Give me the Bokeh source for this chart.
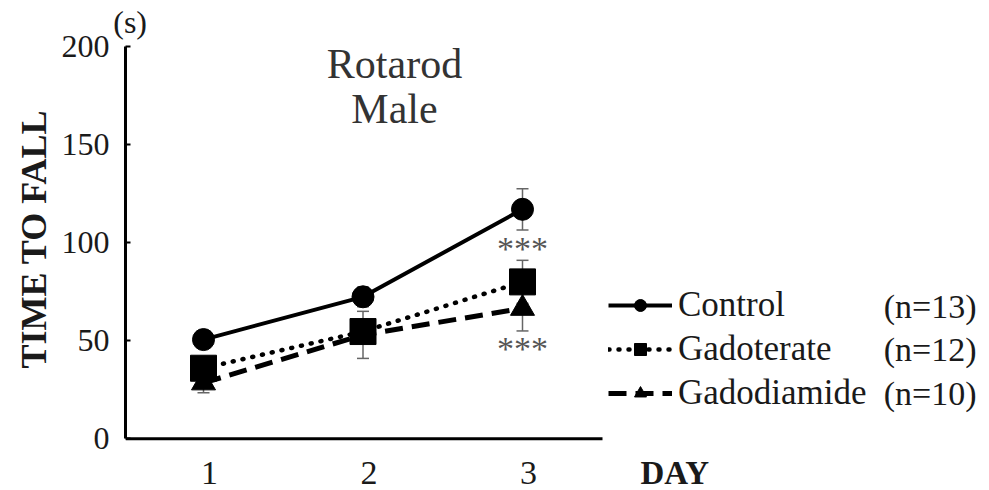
from bokeh.plotting import figure
from bokeh.models import (Range1d, FixedTicker, Whisker, ColumnDataSource, Label,
                          TeeHead, Legend, LegendItem, Title)
from bokeh.core.properties import value
from bokeh.embed import file_html
from bokeh.resources import INLINE

# ---------------- data ----------------
days = [1, 2, 3]
day_labels = ["1", "2", "3"]
control = [50.6, 72.4, 117.0]
control_err = [3.0, 5.0, 10.5]
gadoterate = [36.0, 54.7, 80.0]
gadoterate_err = [4.0, 6.0, 11.0]
gadodiamide = [28.5, 53.0, 66.5]
gadodiamide_err = [5.0, 12.0, 11.5]
series_names = ["Control", "Gadoterate", "Gadodiamide"]
series_n = ["(n=13)", "(n=12)", "(n=10)"]
y_ticks = [0, 50, 100, 150, 200]
sig_text = ["***", "***"]
unit_text = "(s)"
x_title = "DAY"
y_title = "TIME TO FALL"

FONT = "Liberation Serif"
TXT = "#1a1a1a"

# ---------------- layout constants (pixels -> data) ----------------
W, H = 989, 490
LEFT, TOP = 125, 40          # frame left / top in canvas pixels
Y0_PX = 438                  # pixel row of y = 0
PX_PER_Y = 1.975
DAY1_PX, PX_PER_DAY = 203, 159.5
AXIS_END_PX = 602

def xdata(px):
    return days[0] + (px - DAY1_PX) / PX_PER_DAY

def ydata(py):
    return (Y0_PX - py) / PX_PER_Y

x_start, x_end = xdata(LEFT), xdata(W)
y_start, y_end = ydata(H), ydata(TOP)
x_axis_end = xdata(AXIS_END_PX)

p = figure(width=W, height=H, x_range=Range1d(x_start, x_end), y_range=Range1d(y_start, y_end),
           output_backend="svg", toolbar_location=None, x_axis_location="above",
           min_border_left=LEFT, min_border_right=0, min_border_top=TOP, min_border_bottom=0)
p.outline_line_color = None
p.xgrid.visible = False
p.ygrid.visible = False
p.background_fill_color = "white"

# y axis (real axis, bounded to 0..200)
p.yaxis.bounds = (y_ticks[0], y_ticks[-1])
p.yaxis.ticker = FixedTicker(ticks=y_ticks)
p.yaxis.axis_line_width = 3
p.yaxis.major_tick_in = 5
p.yaxis.major_tick_out = 0
p.yaxis.major_tick_line_width = 2
p.yaxis.minor_tick_line_color = None
p.yaxis.major_label_text_font = FONT
p.yaxis.major_label_text_font_size = "32px"
p.yaxis.major_label_text_color = TXT
p.yaxis.major_label_standoff = 16

# y title as a side title, starting 122 px above the bottom of the frame
p.add_layout(Title(text=y_title, align="left", offset=H - 368, standoff=10,
                   text_font=FONT, text_font_style="bold", text_font_size="36px",
                   text_color=TXT), "left")

# top axis carries only the unit label "(s)"
unit_x = 0.54
p.xaxis.ticker = FixedTicker(ticks=[unit_x])
p.xaxis.major_label_overrides = {unit_x: unit_text}
p.xaxis.axis_line_color = None
p.xaxis.major_tick_line_color = None
p.xaxis.minor_tick_line_color = None
p.xaxis.major_tick_in = 0
p.xaxis.major_tick_out = 0
p.xaxis.major_label_standoff = 4
p.xaxis.major_label_text_font = FONT
p.xaxis.major_label_text_font_size = "32px"
p.xaxis.major_label_text_color = TXT

# x axis line + day labels
p.line([x_start, x_axis_end], [0, 0], line_width=3, line_color="black")
p.text(x=days, y=[0] * len(days), text=day_labels, x_offset=6, y_offset=34,
       text_align="center", text_baseline="alphabetic",
       text_font=value(FONT), text_font_size="34px", text_color=TXT)
p.text(x=[xdata(640)], y=[0], text=[x_title], y_offset=34, text_align="left",
       text_baseline="alphabetic", text_font=value(FONT), text_font_size="33px",
       text_font_style="bold", text_color=TXT)

# error bars
for ys, es in [(control, control_err), (gadoterate, gadoterate_err), (gadodiamide, gadodiamide_err)]:
    src = ColumnDataSource(dict(x=days, lo=[y - e for y, e in zip(ys, es)],
                                hi=[y + e for y, e in zip(ys, es)]))
    w = Whisker(source=src, base="x", lower="lo", upper="hi", line_color="#666666", line_width=1.5,
                upper_head=TeeHead(size=12, line_color="#666666", line_width=1.5),
                lower_head=TeeHead(size=12, line_color="#666666", line_width=1.5))
    w.level = "underlay"
    p.add_layout(w)

# lines
l_ctrl = p.line(days, control, line_width=4, line_color="black")
l_gdd = p.line(days, gadodiamide, line_width=5, line_color="black", line_dash="18 9")
l_gdt = p.line(days, gadoterate, line_width=4.5, line_color="black", line_dash="1 9", line_cap="round")

# markers
m_ctrl = p.scatter(days, control, marker="circle", size=22, color="black")
m_gdd = p.scatter(days, gadodiamide, marker="triangle", size=24, color="black")
m_gdt = p.scatter(days, gadoterate, marker="square", size=26, color="black")

# significance stars
sig_x = [days[2], days[2]]
sig_y = [gadoterate[2] + gadoterate_err[2] + 6, gadodiamide[2] - gadodiamide_err[2] - 9]
p.text(x=sig_x, y=sig_y, text=sig_text, text_align="center", text_baseline="alphabetic",
       y_offset=0, text_font=value(FONT), text_font_size="34px", text_color="#555555")

# title inside the plot
p.add_layout(Label(x=xdata(394), y=ydata(61), text="Rotarod", text_align="center",
                   text_baseline="alphabetic", text_font=FONT, text_font_size="42px",
                   text_color="#333333"))
p.add_layout(Label(x=xdata(394), y=ydata(106), text="Male", text_align="center",
                   text_baseline="alphabetic", text_font=FONT, text_font_size="42px",
                   text_color="#333333"))

# legend
legend = Legend(items=[LegendItem(label=series_names[0], renderers=[l_ctrl, m_ctrl]),
                       LegendItem(label=series_names[1], renderers=[l_gdt, m_gdt]),
                       LegendItem(label=series_names[2], renderers=[l_gdd, m_gdd])],
                location=(608 - LEFT, H - 413), orientation="vertical",
                glyph_width=64, glyph_height=30, label_height=30, label_standoff=6,
                spacing=4, padding=0, margin=0,
                border_line_color=None, background_fill_alpha=0,
                label_text_font=FONT, label_text_font_size="35px", label_text_color=TXT)
p.add_layout(legend)

rows_px = [305, 348.5, 392]
p.text(x=[xdata(976)] * 3, y=[ydata(r) for r in rows_px], text=series_n, text_align="right",
       text_baseline="middle", text_font=value(FONT), text_font_size="34px", text_color=TXT)

open("out.html", "w").write(file_html(p, INLINE))
